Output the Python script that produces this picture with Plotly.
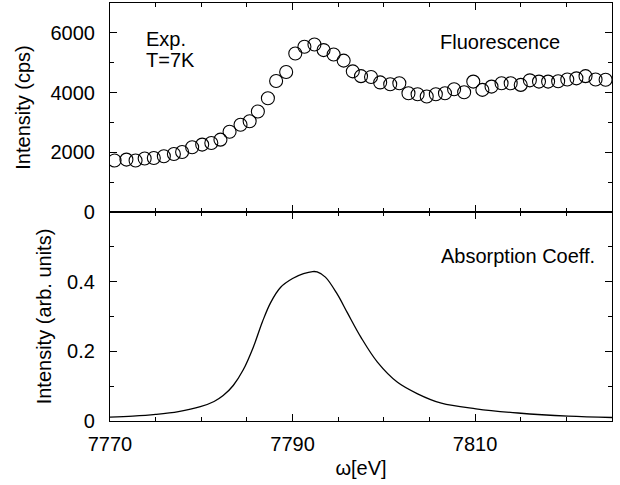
import plotly.graph_objects as go
from plotly.subplots import make_subplots

# Fluorescence (experimental) data
omega_exp = [7770.5, 7771.8, 7772.8, 7773.8, 7774.8, 7775.9, 7777.0, 7777.9, 7779.0, 7780.1,
             7781.1, 7782.1, 7783.1, 7784.3, 7785.3, 7786.2, 7787.3, 7788.2, 7789.3, 7790.3,
             7791.3, 7792.4, 7793.4, 7794.5, 7795.6, 7796.6, 7797.5, 7798.6, 7799.6, 7800.7,
             7801.7, 7802.7, 7803.7, 7804.7, 7805.7, 7806.7, 7807.7, 7808.8, 7809.8, 7810.8,
             7811.8, 7812.9, 7813.9, 7815.0, 7816.0, 7817.0, 7818.0, 7819.1, 7820.1, 7821.1,
             7822.1, 7823.2, 7824.3]
fluor_cps = [1723, 1755, 1723, 1790, 1810, 1867, 1943, 2010, 2167, 2257,
             2310, 2423, 2690, 2920, 3040, 3367, 3810, 4390, 4690, 5310,
             5533, 5610, 5423, 5277, 5070, 4710, 4550, 4520, 4340, 4277,
             4310, 3977, 3945, 3867, 3943, 3977, 4110, 4010, 4367, 4090,
             4200, 4310, 4310, 4257, 4410, 4367, 4367, 4380, 4440, 4477,
             4550, 4440, 4430]

# Absorption coefficient curve
omega_abs = [7770, 7772.5, 7775, 7777.5, 7779.9, 7781.4, 7782.4, 7783.5, 7784.6, 7785.7,
             7786.7, 7787.6, 7788.7, 7790.0, 7791.2, 7792.2, 7792.7, 7793.6, 7794.9, 7796.0,
             7797.5, 7799.3, 7801.5, 7803.7, 7806.3, 7810.1, 7814.7, 7820.2, 7825]
absorption = [0.011, 0.014, 0.019, 0.027, 0.041, 0.056, 0.073, 0.102, 0.147, 0.212,
              0.285, 0.340, 0.384, 0.409, 0.423, 0.429, 0.428, 0.413, 0.364, 0.311,
              0.240, 0.169, 0.111, 0.078, 0.051, 0.035, 0.023, 0.014, 0.010]

x_ticks = [7770, 7790, 7810]
x_minor = [7775, 7780, 7785, 7795, 7800, 7805, 7815, 7820, 7825]
y1_ticks = [0, 2000, 4000, 6000]
y1_minor = [1000, 3000, 5000, 7000]
y2_ticks = [0, 0.2, 0.4]
y2_minor = [0.1, 0.3, 0.5]

FONT = "Liberation Sans, Arial, Helvetica, sans-serif"

fig = make_subplots(rows=2, cols=1, shared_xaxes=True, vertical_spacing=0)

fig.add_trace(go.Scatter(x=omega_exp, y=fluor_cps, mode="markers",
                         marker=dict(symbol="circle-open", size=13, color="black",
                                     line=dict(width=1.1, color="black")),
                         showlegend=False), row=1, col=1)
fig.add_trace(go.Scatter(x=omega_abs, y=absorption, mode="lines",
                         line=dict(color="black", width=1.3, shape="spline", smoothing=1.0),
                         showlegend=False), row=2, col=1)

axis_common = dict(showline=True, linecolor="black", linewidth=1.2, mirror="ticks",
                   ticks="inside", ticklen=7, tickwidth=1, tickcolor="black",
                   showgrid=False, zeroline=False, automargin=False,
                   tickfont=dict(family=FONT, size=20, color="black"))

fig.update_xaxes(range=[7770, 7825], tickmode="array", tickvals=x_ticks,
                 minor=dict(tickmode="array", tickvals=x_minor, ticks="inside", ticklen=4,
                            tickcolor="black", showgrid=False),
                 **axis_common)
fig.update_xaxes(showticklabels=False, row=1, col=1)
fig.update_xaxes(title=dict(text="ω[eV]", font=dict(family=FONT, size=20, color="black"),
                            standoff=6),
                 ticklabelstandoff=5, row=2, col=1)

fig.update_yaxes(range=[0, 7000], tickmode="array", tickvals=y1_ticks,
                 minor=dict(tickmode="array", tickvals=y1_minor, ticks="inside", ticklen=4,
                            tickcolor="black", showgrid=False),
                 title=dict(text="Intensity (cps)", font=dict(family=FONT, size=20, color="black"),
                            standoff=14),
                 ticklabelstandoff=10,
                 row=1, col=1, **axis_common)
fig.update_yaxes(range=[0, 0.6], tickmode="array", tickvals=y2_ticks,
                 minor=dict(tickmode="array", tickvals=y2_minor, ticks="inside", ticklen=4,
                            tickcolor="black", showgrid=False),
                 title=dict(text="Intensity (arb. units)", font=dict(family=FONT, size=20, color="black"),
                            standoff=10),
                 ticklabelstandoff=10,
                 row=2, col=1, **axis_common)

ann_font = dict(family=FONT, size=20, color="black")
annotations = [
    dict(text="Exp.", x=0.0677, y=0.914, xanchor="left", yanchor="middle"),
    dict(text="T=7K", x=0.0677, y=0.864, xanchor="left", yanchor="middle"),
    dict(text="Fluorescence", x=0.777, y=0.907, xanchor="center", yanchor="middle"),
    dict(text="Absorption Coeff.", x=0.813, y=0.395, xanchor="center", yanchor="middle"),
]
for a in annotations:
    fig.add_annotation(xref="paper", yref="paper", showarrow=False, font=ann_font, **a)

fig.update_layout(width=620, height=485, margin=dict(l=110, r=8, t=3, b=64),
                  plot_bgcolor="white", paper_bgcolor="white",
                  font=dict(family=FONT, size=20, color="black"))

fig.write_html("out.html", config={"displayModeBar": False},
               post_script="document.body.style.margin='0px';")
